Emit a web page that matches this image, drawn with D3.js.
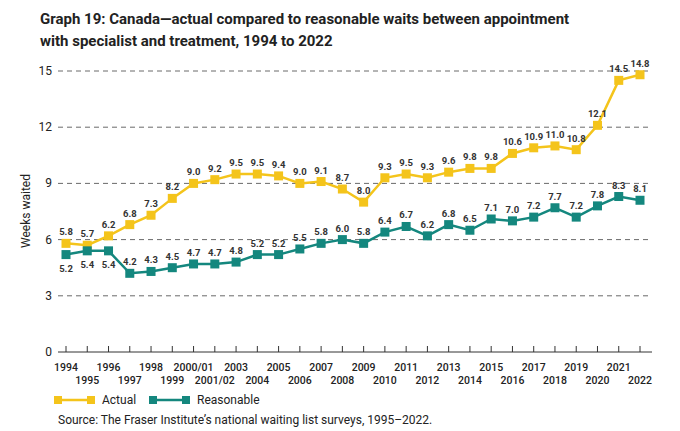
<!DOCTYPE html><html><head><meta charset="utf-8"><script src="https://cdn.jsdelivr.net/npm/d3@7"></script>
<style>body{margin:0;background:#fff;font-family:Roboto,"Liberation Sans",sans-serif}</style></head><body><svg width="680" height="431"></svg><script>
const categories=["1994","1995","1996","1997","1998","1999","2000/01","2001/02","2003","2004","2005","2006","2007","2008","2009","2010","2011","2012","2013","2014","2015","2016","2017","2018","2019","2020","2021","2022"];
const actual=[5.8,5.7,6.2,6.8,7.3,8.2,9.0,9.2,9.5,9.5,9.4,9.0,9.1,8.7,8.0,9.3,9.5,9.3,9.6,9.8,9.8,10.6,10.9,11.0,10.8,12.1,14.5,14.8];
const reasonable=[5.2,5.4,5.4,4.2,4.3,4.5,4.7,4.7,4.8,5.2,5.2,5.5,5.8,6.0,5.8,6.4,6.7,6.2,6.8,6.5,7.1,7.0,7.2,7.7,7.2,7.8,8.3,8.1];
const yTicks=[0,3,6,9,12,15];
const svg=d3.select("svg");
const x=d3.scalePoint().domain(categories).range([66,640]);
const y=d3.scaleLinear().domain([0,15]).range([352,71]);
svg.append("text").attr("x",40).attr("y",24).attr("font-size",15).attr("font-weight",700).attr("fill","#222").text("Graph 19: Canada—actual compared to reasonable waits between appointment");
svg.append("text").attr("x",40).attr("y",46).attr("font-size",15).attr("font-weight",700).attr("fill","#222").text("with specialist and treatment, 1994 to 2022");
yTicks.forEach(t=>{
 if(t>0)svg.append("line").attr("x1",58).attr("x2",652).attr("y1",y(t)).attr("y2",y(t)).attr("stroke","#444").attr("stroke-dasharray","5,4").attr("stroke-width",0.8);
 svg.append("text").attr("x",52).attr("y",y(t)+4).attr("text-anchor","end").attr("font-size",12).attr("fill","#222").text(t);
});
svg.append("line").attr("x1",58).attr("x2",652).attr("y1",352).attr("y2",352).attr("stroke","#333");
categories.forEach((c,i)=>{
 svg.append("line").attr("x1",x(c)).attr("x2",x(c)).attr("y1",352).attr("y2",346).attr("stroke","#333");
 svg.append("text").attr("x",x(c)).attr("y",i%2?384:371).attr("text-anchor","middle").attr("font-size",10.5).attr("font-weight",500).attr("fill","#222").text(c);
});
svg.append("text").attr("transform","translate(30,211) rotate(-90)").attr("text-anchor","middle").attr("font-size",12).attr("fill","#222").text("Weeks waited");
function series(vals,col,below){
 svg.append("path").datum(vals).attr("d",d3.line().x((d,i)=>x(categories[i])).y(d=>y(d))).attr("fill","none").attr("stroke",col).attr("stroke-width",2.5);
 vals.forEach((v,i)=>{
  svg.append("rect").attr("x",x(categories[i])-4.5).attr("y",y(v)-4.5).attr("width",9).attr("height",9).attr("fill",col);
  const b=below(i);
  svg.append("text").attr("x",x(categories[i])).attr("y",b?y(v)+17:y(v)-8).attr("text-anchor","middle").attr("font-size",9.5).attr("font-weight",700).attr("fill","#333").text(v.toFixed(1));
 });
}
series(actual,"#F4C41B",()=>false);
series(reasonable,"#14877E",i=>i<3);
[["Actual","#F4C41B",58],["Reasonable","#14877E",153]].forEach(([t,c,lx])=>{
 svg.append("line").attr("x1",lx).attr("x2",lx+33).attr("y1",400).attr("y2",400).attr("stroke",c).attr("stroke-width",2.5);
 svg.append("rect").attr("x",lx-4).attr("y",396).attr("width",8).attr("height",8).attr("fill",c);
 svg.append("rect").attr("x",lx+29).attr("y",396).attr("width",8).attr("height",8).attr("fill",c);
 svg.append("text").attr("x",lx+44).attr("y",404).attr("font-size",12).attr("fill","#222").text(t);
});
svg.append("text").attr("x",58).attr("y",424).attr("font-size",12).attr("fill","#222").text("Source: The Fraser Institute’s national waiting list surveys, 1995–2022.");
</script></body></html>
